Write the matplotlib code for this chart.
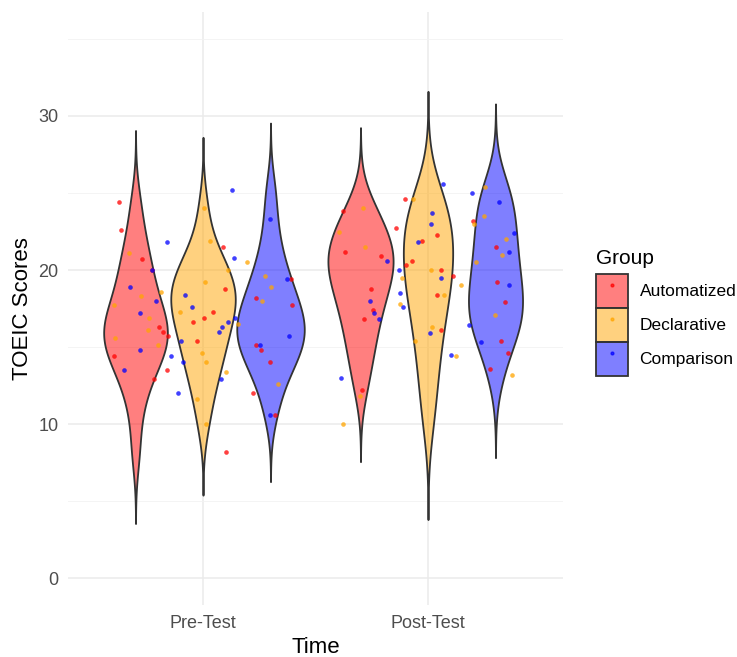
import numpy as np
import matplotlib.pyplot as plt
from matplotlib.colors import to_rgba
from matplotlib.patches import Patch
from matplotlib.lines import Line2D
from matplotlib.legend_handler import HandlerTuple

plt.rcParams['font.family'] = ['Liberation Sans', 'DejaVu Sans']

tiempos = ['Pre-Test', 'Post-Test']
grupos = ['Automatized', 'Declarative', 'Comparison']
colores = ['#FF0000', '#FFA500', '#0000FF']

# puntajes TOEIC por tiempo y grupo
pre_auto = [8.2, 10.6, 12.0, 12.9, 13.5, 14.0, 14.4, 14.8, 15.1, 15.4, 15.7, 16.0, 16.3,
            16.6, 16.9, 17.3, 17.7, 18.2, 18.8, 19.4, 20.0, 20.7, 21.5, 22.6, 24.4]
pre_decl = [10.0, 11.6, 12.6, 13.4, 14.0, 14.6, 15.1, 15.6, 16.1, 16.5, 16.9, 17.3,
            17.7, 18.0, 18.3, 18.6, 18.9, 19.2, 19.6, 20.0, 20.5, 21.1, 21.9, 24.0]
pre_comp = [10.6, 12.0, 12.9, 13.5, 14.0, 14.4, 14.8, 15.1, 15.4, 15.7, 16.0, 16.3, 16.6,
            16.9, 17.2, 17.6, 18.0, 18.4, 18.9, 19.4, 20.0, 20.8, 21.8, 23.3, 25.2]
post_auto = [12.2, 13.6, 14.6, 15.4, 16.1, 16.8, 17.4, 17.9, 18.4, 18.8, 19.2, 19.6,
             20.0, 20.3, 20.6, 20.9, 21.2, 21.5, 21.9, 22.3, 22.7, 23.2, 23.8, 24.6]
post_decl = [10.0, 11.8, 13.2, 14.4, 15.4, 16.3, 17.1, 17.8, 18.4, 19.0, 19.5, 20.0,
             20.5, 21.0, 21.5, 22.0, 22.5, 23.0, 23.5, 24.0, 24.6, 25.4]
post_comp = [13.0, 14.5, 15.3, 15.9, 16.4, 16.8, 17.2, 17.6, 18.0, 18.5, 19.0, 19.5,
             20.0, 20.6, 21.2, 21.8, 22.4, 23.0, 23.7, 24.4, 25.0, 25.6]

datos = {
    ('Pre-Test', 'Automatized'): pre_auto,
    ('Pre-Test', 'Declarative'): pre_decl,
    ('Pre-Test', 'Comparison'): pre_comp,
    ('Post-Test', 'Automatized'): post_auto,
    ('Post-Test', 'Declarative'): post_decl,
    ('Post-Test', 'Comparison'): post_comp,
}


def bw_nrd0(x):
    sd = np.std(x, ddof=1)
    q75, q25 = np.percentile(x, [75, 25])
    return 0.9 * min(sd, (q75 - q25) / 1.34) * len(x) ** -0.2


def densidad(x):
    x = np.asarray(x, dtype=float)
    bw = bw_nrd0(x)
    ys = np.linspace(x.min() - 3 * bw, x.max() + 3 * bw, 512)
    d = np.exp(-0.5 * ((ys[:, None] - x[None, :]) / bw) ** 2).sum(axis=1)
    d = d / (len(x) * bw * np.sqrt(2 * np.pi))
    return ys, d


fig = plt.figure(figsize=(7.37, 6.57), dpi=100)
ax = fig.add_axes([0.0923, 0.0791, 0.6716, 0.9026])

# densidades (escala "area": todas relativas al maximo global)
dens = {k: densidad(v) for k, v in datos.items()}
dmax = max(d.max() for _, d in dens.values())

for i, t in enumerate(tiempos):
    for j, g in enumerate(grupos):
        pos = i + 1 + (j - 1) * 0.3
        ys, d = dens[(t, g)]
        w = d / dmax * 0.15
        ax.fill_betweenx(ys, pos - w, pos + w, facecolor=to_rgba(colores[j], 0.5),
                         edgecolor='#333333', linewidth=1.3, zorder=2)

# puntos con jitter horizontal
rng = np.random.default_rng(7)
for i, t in enumerate(tiempos):
    for j, g in enumerate(grupos):
        y = np.asarray(datos[(t, g)])
        x = i + 1 + rng.uniform(-0.4, 0.4, len(y))
        ax.scatter(x, y, s=11, color=colores[j], alpha=0.75, linewidths=0, zorder=3)

ax.set_xlim(0.4, 2.6)
ax.set_ylim(-1.75, 36.75)
ax.set_xticks([1, 2])
ax.set_xticklabels(tiempos)
ax.set_yticks([0, 10, 20, 30])
ax.set_yticks([5, 15, 25, 35], minor=True)
ax.grid(True, which='major', color='#EBEBEB', linewidth=1.1, zorder=0)
ax.grid(True, which='minor', axis='y', color='#F2F2F2', linewidth=0.6, zorder=0)
ax.set_axisbelow(True)
for s in ax.spines.values():
    s.set_visible(False)
ax.tick_params(length=0, labelsize=13, labelcolor='#4D4D4D')
ax.tick_params(axis='x', pad=7)
ax.tick_params(axis='y', pad=7)
ax.tick_params(axis='y', which='minor', length=0)
ax.set_xlabel('Time', fontsize=16, labelpad=4)
ax.set_ylabel('TOEIC Scores', fontsize=16, labelpad=4)

# leyenda
handles = []
for c in colores:
    handles.append((Patch(facecolor=to_rgba(c, 0.5), edgecolor='#333333', linewidth=1.3),
                    Line2D([], [], marker='o', linestyle='', markersize=2, color=c, alpha=0.7)))
leg = fig.legend(handles, grupos, loc='center left', bbox_to_anchor=(0.787, 0.524),
                 frameon=False, title='Group', fontsize=12.5, title_fontsize=15,
                 handlelength=1.85, handleheight=2.65, labelspacing=0.0, handletextpad=0.68,
                 handler_map={tuple: HandlerTuple(ndivide=1, pad=0)})
leg._legend_box.align = 'left'
leg._legend_box.sep = 4

fig.savefig('out.png', dpi=100)
